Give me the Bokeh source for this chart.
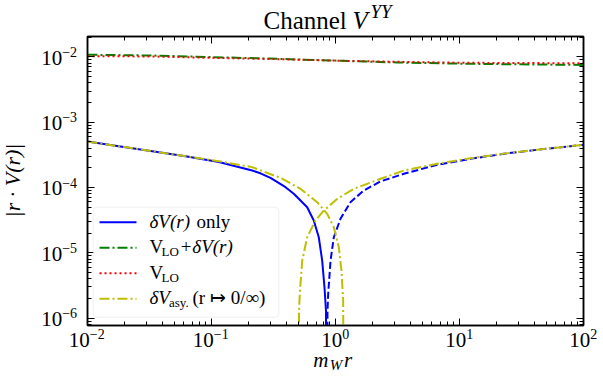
import numpy as np
from bokeh.plotting import figure
from bokeh.models import (Range1d, LogAxis, FixedTicker, CustomJSTickFormatter,
                          BoxAnnotation)
from bokeh.core.properties import value
from bokeh.embed import file_html
from bokeh.resources import INLINE

# ---------------- data ----------------
# delta V(r) only, positive branch (solid) and negative branch (dashed, |.|)
r_dv_pos = [0.01, 0.01786, 0.0333, 0.0617, 0.1146, 0.2128, 0.248, 0.299, 0.395, 0.461,
            0.591, 0.668, 0.733, 0.781, 0.815, 0.838, 0.845]
dv_pos = [5.06e-4, 4.29e-4, 3.60e-4, 3.01e-4, 2.45e-4, 1.82e-4, 1.65e-4, 1.40e-4, 1.01e-4,
          8.0e-5, 4.99e-5, 3.13e-5, 1.73e-5, 7.6e-6, 2.97e-6, 1.31e-6, 1e-8]
r_dv_neg = [0.855, 0.862, 0.873, 0.912, 0.969, 1.097, 1.32, 1.69, 2.31, 3.56, 6.61,
            12.27, 22.8, 42.3, 78.5, 100.0]
dv_neg = [1e-8, 1.3e-6, 2.36e-6, 7.6e-6, 1.73e-5, 3.32e-5, 5.96e-5, 9.0e-5, 1.24e-4,
          1.62e-4, 2.23e-4, 2.75e-4, 3.28e-4, 3.78e-4, 4.29e-4, 4.51e-4]
# V_LO + delta V(r)
r_tot = [0.01, 0.0322, 0.1038, 0.36, 1.097, 3.16, 10.77, 31.0, 100.0]
v_tot = [1.077e-2, 1.05e-2, 9.9e-3, 9.3e-3, 8.71e-3, 8.2e-3, 7.85e-3, 7.68e-3, 7.53e-3]
# V_LO
r_lo = [0.01, 0.0322, 0.1038, 0.36, 1.097, 3.16, 10.77, 31.0, 100.0]
v_lo = [1.026e-2, 1.014e-2, 9.65e-3, 9.2e-3, 8.71e-3, 8.4e-3, 8.12e-3, 8.04e-3, 7.98e-3]
# asymptotic delta V, r -> 0
r_asy0 = [0.01, 0.01786, 0.0333, 0.0617, 0.1146, 0.2128, 0.374, 0.522, 0.711, 0.857,
          0.969, 1.063, 1.117, 1.153, 1.167]
v_asy0 = [5.06e-4, 4.29e-4, 3.60e-4, 3.01e-4, 2.52e-4, 2.05e-4, 1.36e-4, 9.55e-5, 5.96e-5,
          3.95e-5, 2.47e-5, 1.22e-5, 5.36e-6, 1.86e-6, 1e-8]
# asymptotic delta V, r -> infinity
r_asyinf = [0.503, 0.508, 0.515, 0.539, 0.591, 0.690, 0.806, 1.033, 1.406, 2.31, 3.56,
            6.61, 12.27, 22.8, 42.3, 78.5, 100.0]
v_asyinf = [1e-8, 1.3e-6, 2.36e-6, 7.6e-6, 1.73e-5, 3.13e-5, 4.45e-5, 6.71e-5, 9.55e-5,
            1.36e-4, 1.82e-4, 2.31e-4, 2.8e-4, 3.3e-4, 3.78e-4, 4.29e-4, 4.51e-4]

x_tick_exps = [-2, -1, 0, 1, 2]
x_tick_sup = ["\u22122", "\u22121", "0", "1", "2"]
y_tick_exps = [-6, -5, -4, -3, -2]
y_tick_sup = ["\u22126", "\u22125", "\u22124", "\u22123", "\u22122"]

# ---------------- layout ----------------
X_LO, X_HI = 1e-2, 1e2
Y_LO, Y_HI = 7.71e-7, 2.05e-2
FW, FH = 496, 289
BL, BR, BT, BB = 87, 20, 36, 56
FONT = "Liberation Serif"

BLUE, GREEN, RED, YEL = "#0000ff", "#008000", "#ff0000", "#bfbf00"

p = figure(width=BL + FW + BR, height=BT + FH + BB,
           x_axis_type="log", y_axis_type="log",
           x_range=Range1d(X_LO, X_HI), y_range=Range1d(Y_LO, Y_HI),
           output_backend="svg", toolbar_location=None,
           min_border_left=BL, min_border_right=BR,
           min_border_top=BT, min_border_bottom=BB)
p.background_fill_color = "white"
p.border_fill_color = "white"
p.outline_line_color = "black"
p.outline_line_width = 1.5
p.xgrid.visible = False
p.ygrid.visible = False

p.add_layout(LogAxis(), "above")
p.add_layout(LogAxis(), "right")

def in_range(v, lo, hi):
    return [t for t in v if lo <= t <= hi]

x_major = [10.0 ** e for e in x_tick_exps]
x_minor = in_range([m * 10.0 ** e for e in range(-2, 2) for m in range(2, 10)], X_LO, X_HI)
y_major = [10.0 ** e for e in y_tick_exps]
y_minor = in_range([m * 10.0 ** e for e in range(-7, -1) for m in range(2, 10)], Y_LO, Y_HI)

for ax in p.xaxis:
    ax.ticker = FixedTicker(ticks=x_major, minor_ticks=x_minor)
for ax in p.yaxis:
    ax.ticker = FixedTicker(ticks=y_major, minor_ticks=y_minor)
for ax in p.axis:
    ax.formatter = CustomJSTickFormatter(code="return ''")
    ax.major_label_text_font_size = "0px"
    ax.major_label_standoff = 0
    ax.major_tick_in = 7
    ax.major_tick_out = 0
    ax.minor_tick_in = 4
    ax.minor_tick_out = 0
    ax.axis_line_color = "black"
    ax.axis_line_width = 1.5
    ax.major_tick_line_color = "black"
    ax.minor_tick_line_color = "black"
    ax.major_tick_line_width = 1
    ax.minor_tick_line_width = 1

# ---------------- curves ----------------
p.line(r_dv_pos, dv_pos, line_color=BLUE, line_width=2)
p.line(r_dv_neg, dv_neg, line_color=BLUE, line_width=2, line_dash="7 3")
p.line(r_tot, v_tot, line_color=GREEN, line_width=2, line_dash="10 3 2 3")
p.line(r_lo, v_lo, line_color=RED, line_width=2, line_dash="2 3")
p.line(r_asy0, v_asy0, line_color=YEL, line_width=2, line_dash="10 3 2 3")
p.line(r_asyinf, v_asyinf, line_color=YEL, line_width=2, line_dash="10 3 2 3")

# ---------------- text helper (text glyphs, offsets in pixels; dy up) ----------------
def txt(text, dx, dy, size, style="normal", align="left", baseline="alphabetic",
        x=X_LO, y=Y_LO, angle=0.0):
    if baseline == "alphabetic":
        dy = dy + 0.35 * size
    p.text(x=[x], y=[y], text=[text], x_offset=dx, y_offset=-dy,
           text_font=value(FONT), text_font_size=value(f"{size}px"),
           text_font_style=style, text_color="black",
           text_align=align, text_baseline=baseline, angle=angle,
           level="overlay")

lx0, lx1 = np.log10(X_LO), np.log10(X_HI)
ly0, ly1 = np.log10(Y_LO), np.log10(Y_HI)

def x_at(dx):
    return 10 ** (lx0 + dx / FW * (lx1 - lx0))

def y_at(dy):
    return 10 ** (ly0 + dy / FH * (ly1 - ly0))

# tick labels
for e, s in zip(x_tick_exps, x_tick_sup):
    d = 2.3 if s.startswith("\u2212") else 6.7
    txt("10", d, -21.7, 21, align="right", x=10.0 ** e)
    txt(s, d, -13, 14, align="left", x=10.0 ** e)
for e, s in zip(y_tick_exps, y_tick_sup):
    txt("10", -25.3, -8.3, 21, align="right", y=10.0 ** e)
    txt(s, -25.3, 0, 14, align="left", y=10.0 ** e)

# title: Channel V^{YY}
txt("Channel", 176, 296, 25)
txt("V", 265, 296, 25, style="italic")
txt("YY", 283, 307, 19, style="italic")

# axis labels
txt("m", 225.7, -41.7, 21, style="italic")
txt("W", 242.3, -45, 15, style="italic")
txt("r", 256.5, -41.7, 21, style="italic")
txt("|r \u00b7 V(r)|", -75, 145, 22, style="italic", align="center",
    baseline="middle", angle=np.pi / 2)

# ---------------- legend ----------------
p.add_layout(BoxAnnotation(left=x_at(5.7), right=x_at(191.3), bottom=y_at(8.3),
                           top=y_at(118.3), fill_color="white", fill_alpha=0.85,
                           line_color="#cccccc", line_width=1, border_radius=4))

rows = [103.3, 77.7, 52.3, 26.7]
styles = [(BLUE, None), (GREEN, "10 3 2 3"), (RED, "2 3"), (YEL, "10 3 2 3")]
for dy, (c, dash) in zip(rows, styles):
    kw = dict(line_color=c, line_width=2, level="overlay")
    if dash:
        kw["line_dash"] = dash
    p.line([x_at(12), x_at(49)], [y_at(dy), y_at(dy)], **kw)

b = [dy - 5.5 for dy in rows]
txt("\u03b4V(r)", 62, b[0], 19, style="italic")
txt("only", 109, b[0], 19)
txt("V", 62, b[1], 19)
txt("LO", 74, b[1] - 3, 13)
txt("+\u03b4V(r)", 92, b[1], 19, style="italic")
txt("V", 62, b[2], 19)
txt("LO", 74, b[2] - 3, 13)
txt("\u03b4V", 62, b[3], 19, style="italic")
txt("asy.", 81.5, b[3] - 3, 13)
txt("(r \u21a6 0/\u221e)", 105, b[3], 19)

open("out.html", "w").write(file_html(p, INLINE))
